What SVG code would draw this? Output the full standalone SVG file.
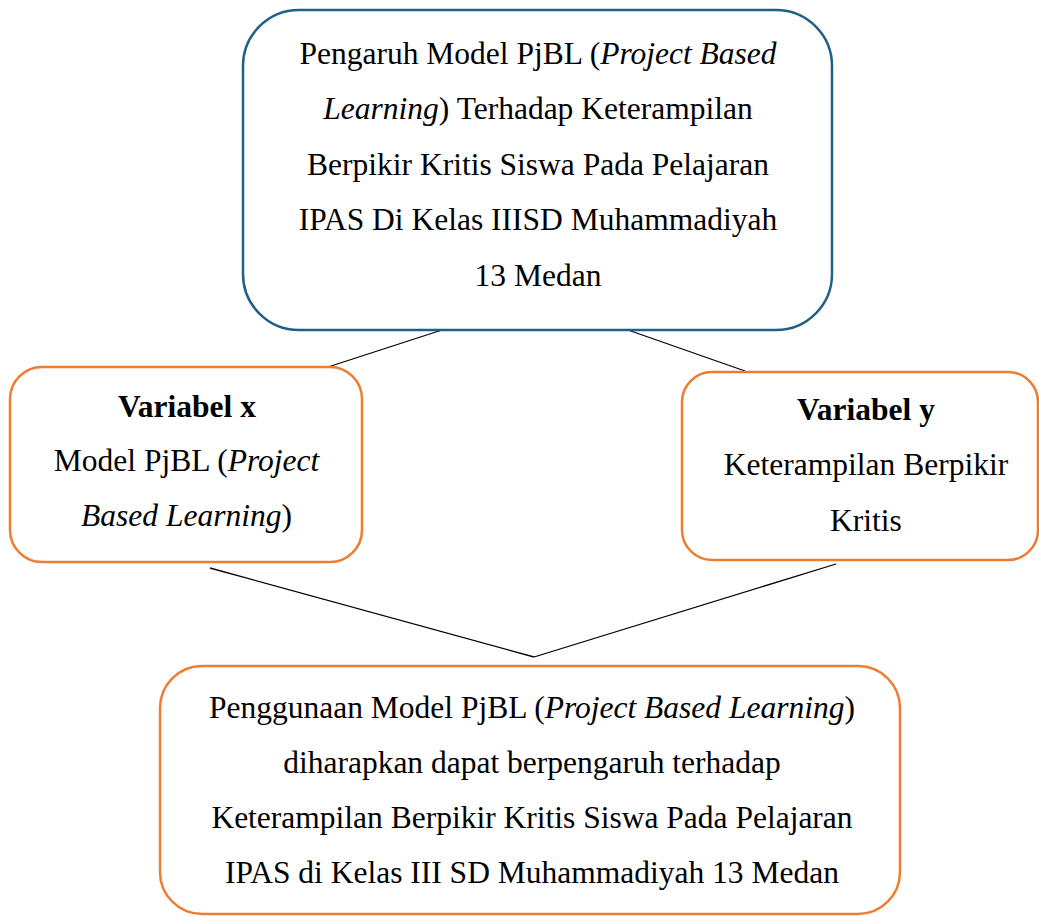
<svg xmlns="http://www.w3.org/2000/svg" width="1039" height="916" viewBox="0 0 1039 916">
<style>
text{font-family:"Liberation Serif","Times New Roman",serif;font-size:31.5px;fill:#000;text-anchor:middle}
.i{font-style:italic}
.b{font-weight:bold}
.blue{fill:#fff;stroke:#1F6089;stroke-width:2.5}
.or{fill:#fff;stroke:#ED7D31;stroke-width:2.5}
.c{stroke:#000;stroke-width:1.3;fill:none}
</style>
<rect width="1039" height="916" fill="#fff"/>
<g id="connectors">
<line class="c" x1="442" y1="330" x2="328" y2="367"/>
<line class="c" x1="628" y1="330" x2="745" y2="371"/>
<line class="c" x1="210" y1="568" x2="534" y2="657"/>
<line class="c" x1="836" y1="564" x2="534" y2="657"/>
</g>
<g id="node-top">
<rect class="blue" x="243" y="10" width="589" height="320" rx="56" ry="56"/>
<text x="538" y="64">Pengaruh Model PjBL (<tspan class="i">Project Based</tspan></text>
<text x="538" y="119"><tspan class="i">Learning</tspan>) Terhadap Keterampilan</text>
<text x="538" y="175">Berpikir Kritis Siswa Pada Pelajaran</text>
<text x="538" y="230">IPAS Di Kelas IIISD Muhammadiyah</text>
<text x="538" y="286">13 Medan</text>
</g>
<g id="node-x">
<rect class="or" x="10" y="367" width="352" height="195" rx="32" ry="32"/>
<text class="b" x="187" y="417">Variabel x</text>
<text x="186.5" y="471">Model PjBL (<tspan class="i">Project</tspan></text>
<text x="186.5" y="526"><tspan class="i">Based Learning</tspan>)</text>
</g>
<g id="node-y">
<rect class="or" x="682" y="372" width="356" height="188" rx="30" ry="30"/>
<text class="b" x="866" y="420">Variabel y</text>
<text x="866" y="475">Keterampilan Berpikir</text>
<text x="866" y="531">Kritis</text>
</g>
<g id="node-bottom">
<rect class="or" x="160" y="666" width="740" height="248" rx="42" ry="42"/>
<text x="532" y="718">Penggunaan Model PjBL (<tspan class="i">Project Based Learning</tspan>)</text>
<text x="532" y="773">diharapkan dapat berpengaruh terhadap</text>
<text x="532" y="828">Keterampilan Berpikir Kritis Siswa Pada Pelajaran</text>
<text x="532" y="883">IPAS di Kelas III SD Muhammadiyah 13 Medan</text>
</g>
</svg>
